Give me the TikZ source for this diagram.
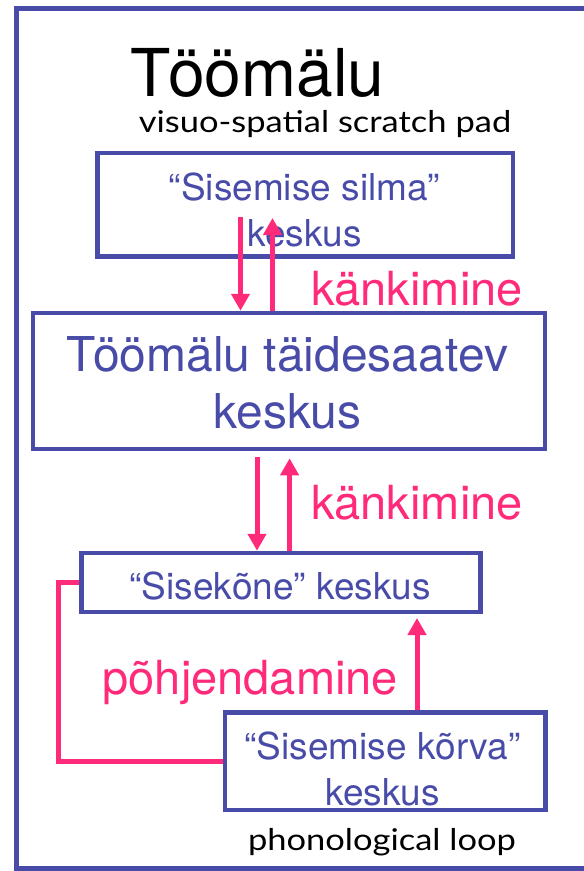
\documentclass[tikz,border=0pt]{standalone}
\usepackage{fontspec}
\setmainfont{TeX Gyre Heros}
\newfontfamily\gill[FakeStretch=1.15]{Lato}
\usetikzlibrary{arrows.meta}
\definecolor{frameblue}{RGB}{72,76,168}
\definecolor{linkpink}{RGB}{255,43,122}

\begin{document}
\begin{tikzpicture}[x=1pt,y=-1pt,
  box/.style={draw=frameblue, line width=4.5pt, inner sep=0pt},
  boxtext/.style={text=frameblue, anchor=base, inner sep=0pt, font=\fontsize{37}{44}\selectfont},
  bigtext/.style={text=frameblue, anchor=base, inner sep=0pt, font=\fontsize{48}{56}\selectfont},
  pinktext/.style={text=linkpink, anchor=base west, inner sep=0pt, font=\fontsize{47}{56}\selectfont},
  note/.style={anchor=base, inner sep=0pt, font=\gill\fontsize{30}{36}\selectfont},
  link/.style={draw=linkpink, line width=5pt, line join=miter},
  flow/.style={link, -{Triangle[width=18pt,length=17pt]}},
]
\useasboundingbox (0,0) rectangle (584,871);
\clip (0,0) rectangle (584,871);
\fill[white] (0,0) rectangle (584,871);

% outer slide frame, running off the right edge
\draw[frameblue, line width=4.5pt] (620,8.5) -| (16.5,868.5) -- (620,868.5);

% headings
\node[anchor=base, inner sep=0pt, font=\fontsize{66}{70}\selectfont] (title) at (257.5,96.5) {Töömälu};
\node[note] (vsp) at (325,132) {visuo-spatial scratch pad};

% boxes
\node[box, minimum width=415.5pt, minimum height=103.5pt] (eye) at (305.25,204.75) {};
\node[box, minimum width=512pt, minimum height=136pt] (exec) at (289,381) {};
\node[box, minimum width=399pt, minimum height=59pt] (inner) at (281,582.5) {};
\node[box, minimum width=320.5pt, minimum height=97.5pt] (ear) at (385.25,761.25) {};

% box texts
\node[boxtext] (eye1) at (304.5,200) {“Sisemise silma”};
\node[boxtext] (eye2) at (304.5,246) {keskus};
\node[bigtext] (exec1) at (287,371.7) {Töömälu täidesaatev};
\node[bigtext] (exec2) at (287.5,428.3) {keskus};
\node[boxtext] (inner1) at (280,599.3) {“Sisekõne” keskus};
\node[boxtext] (ear1) at (382.5,759) {“Sisemise kõrva”};
\node[boxtext] (ear2) at (382.5,805) {keskus};
\node[note] (loop) at (382,850) {phonological loop};

% link labels
\node[pinktext] (chunk1) at (311,305) {känkimine};
\node[pinktext] (chunk2) at (311,519.3) {känkimine};
\node[pinktext] (reason) at (102.5,694) {põhjendamine};

% connector end points
\coordinate (d1) at (240.5,216.7);
\coordinate (u1) at (272.5,218);
\coordinate (d2) at (257,456.7);
\coordinate (u2) at (289.6,458.3);
\coordinate (u3) at (417,618);

% connectors
\draw[flow] (d1) -- (d1 |- exec.north);
\draw[flow] (u1 |- exec.north) -- (u1);
\draw[flow] (d2) -- (d2 |- inner.north);
\draw[flow] (u2 |- inner.north) -- (u2);
\draw[flow] (u3 |- ear.north) -- (u3);
\draw[link] (inner.west) -- ++(-20.75,0) |- (ear.west);
\end{tikzpicture}
\end{document}
